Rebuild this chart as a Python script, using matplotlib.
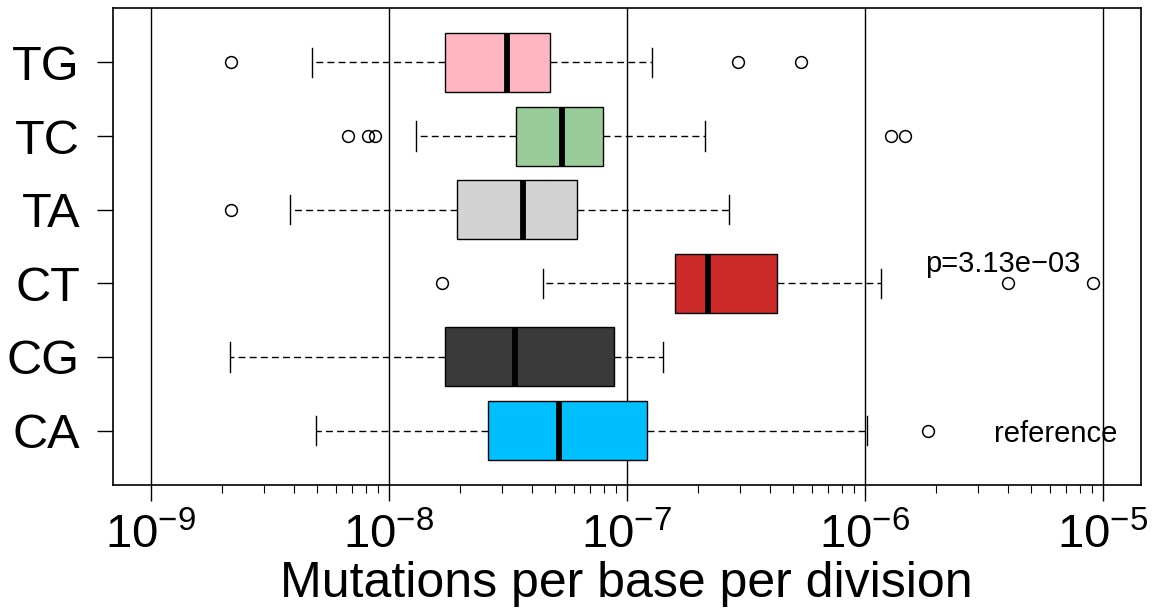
import matplotlib
matplotlib.use("Agg")
import matplotlib.pyplot as plt
from matplotlib import ticker
import numpy as np

plt.rcParams['font.family'] = ['Liberation Sans', 'DejaVu Sans']
plt.rcParams['mathtext.fontset'] = 'custom'
plt.rcParams['mathtext.rm'] = 'Liberation Sans'
plt.rcParams['mathtext.it'] = 'Liberation Sans'
plt.rcParams['mathtext.default'] = 'regular'

# Mutation classes, drawn bottom (CA) to top (TG)
categories = ["CA", "CG", "CT", "TA", "TC", "TG"]
box_colors = ["#00BFFF", "#3A3A3A", "#CC2929", "#D3D3D3", "#99CC99", "#FFB6C1"]

# Five-number summaries (mutations per base per division)
whisker_low = [4.97e-9, 2.15e-9, 4.46e-8, 3.84e-9, 1.30e-8, 4.77e-9]
quartile_1 = [2.62e-8, 1.72e-8, 1.60e-7, 1.94e-8, 3.44e-8, 1.73e-8]
medians = [5.21e-8, 3.40e-8, 2.20e-7, 3.66e-8, 5.32e-8, 3.13e-8]
quartile_3 = [1.22e-7, 8.85e-8, 4.27e-7, 6.19e-8, 7.91e-8, 4.74e-8]
whisker_high = [1.02e-6, 1.42e-7, 1.17e-6, 2.69e-7, 2.14e-7, 1.28e-7]
outliers = [
    [1.84e-6],
    [],
    [1.68e-8, 4.01e-6, 9.08e-6],
    [2.18e-9],
    [6.73e-9, 8.16e-9, 8.73e-9, 1.29e-6, 1.48e-6],
    [2.18e-9, 2.93e-7, 5.41e-7],
]

# Decade exponents shown on the x axis
decades = [-9, -8, -7, -6, -5]

p_value_text = "p=3.13e\u221203"
reference_text = "reference"

stats = []
for i, name in enumerate(categories):
    stats.append(dict(label=name, whislo=whisker_low[i], q1=quartile_1[i],
                      med=medians[i], q3=quartile_3[i], whishi=whisker_high[i],
                      fliers=outliers[i]))

fig = plt.figure(figsize=(11.56, 6.15), dpi=100)
ax = fig.add_axes([0.0974, 0.2114, 0.8896, 0.7756])

positions = np.arange(1, len(categories) + 1)

# Decade grid lines behind the boxes
for k in decades:
    ax.axvline(10.0 ** k, color="black", lw=1.0, zorder=0)

bp = ax.bxp(stats, positions=positions, vert=False, widths=0.8,
            patch_artist=True, showfliers=True,
            boxprops=dict(edgecolor="black", linewidth=1.0),
            medianprops=dict(color="black", linewidth=4.2, solid_capstyle="butt"),
            whiskerprops=dict(color="black", linewidth=1.0, linestyle=(0, (5, 3))),
            capprops=dict(color="black", linewidth=1.0),
            capwidths=0.4,
            flierprops=dict(marker="o", markerfacecolor="none",
                            markeredgecolor="black", markersize=8.5,
                            markeredgewidth=1.1, linestyle="none"),
            zorder=3)
for patch, c in zip(bp["boxes"], box_colors):
    patch.set_facecolor(c)

ax.set_xscale("log")
lo, hi = decades[0], decades[-1]
ext = 0.04 * (hi - lo)
ax.set_xlim(10.0 ** (lo - ext), 10.0 ** (hi + ext))
ax.set_ylim(0.5 - 0.04 * 6, 6.5 + 0.04 * 6)

major = [10.0 ** k for k in decades]
minor = [s * 10.0 ** k for k in decades[:-1] for s in range(2, 10)]
ax.xaxis.set_major_locator(ticker.FixedLocator(major))
ax.xaxis.set_minor_locator(ticker.FixedLocator(minor))
ax.xaxis.set_major_formatter(ticker.FixedFormatter(
    [r"$10^{%d}$" % k for k in decades]))
ax.xaxis.set_minor_formatter(ticker.NullFormatter())
ax.tick_params(axis="x", which="major", length=11.5, width=1.0, labelsize=34, pad=9)
ax.tick_params(axis="x", which="minor", length=6, width=0.8)

ax.set_yticks(positions)
ax.set_yticklabels(categories)
ax.tick_params(axis="y", which="major", length=11.5, width=1.0, labelsize=35, pad=12)

ax.set_xlabel("Mutations per base per division", fontsize=36, labelpad=2)

for s in ax.spines.values():
    s.set_linewidth(1.2)

ax.text(10 ** -5.42, 3.15, p_value_text, fontsize=21, ha="center", va="baseline", zorder=4)
ax.text(10 ** -5.2, 0.845, reference_text, fontsize=21, ha="center", va="baseline", zorder=4)

fig.savefig("out.png", dpi=100)
